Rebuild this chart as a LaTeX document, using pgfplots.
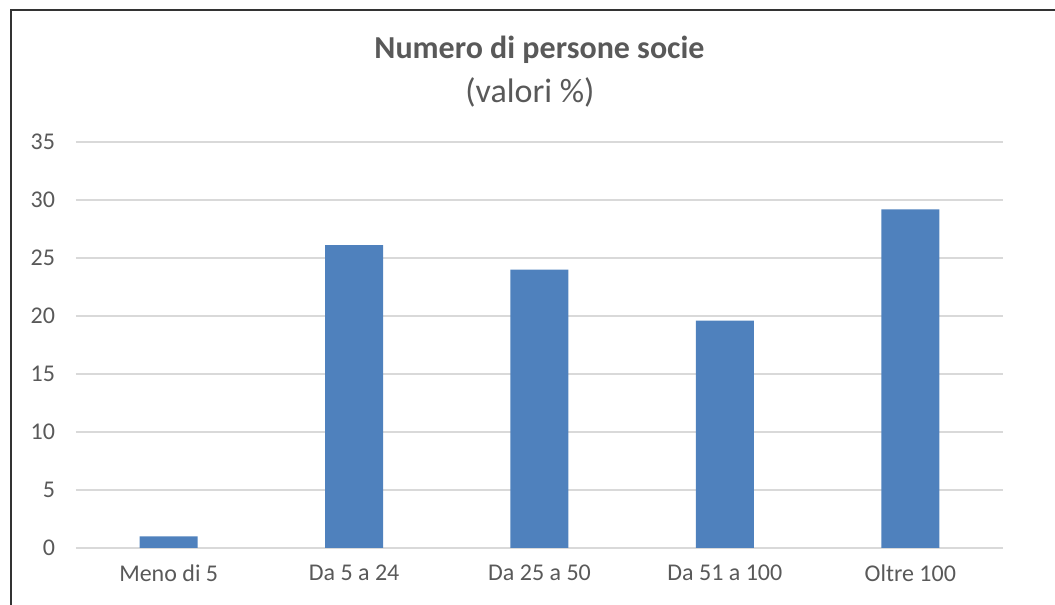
\documentclass[border=0pt]{standalone}
\usepackage{pgfplots}
\pgfplotsset{compat=1.18}
\usepackage{fontspec}
\setmainfont{Carlito}
\definecolor{barblue}{HTML}{4F81BD}
\definecolor{txtgray}{HTML}{595959}
\definecolor{gridgray}{HTML}{D9D9D9}
\begin{document}
\begin{tikzpicture}
  \path[use as bounding box] (-38pt,-28.5pt) rectangle (489.5pt,274pt);
  \draw[line width=1pt, color=black!80] (-32.5pt,-28.5pt) -- (-32.5pt,269pt) -- (489.5pt,269pt);
  \begin{axis}[
      at={(0,0)}, anchor=south west,
      scale only axis,
      width=463.5pt, height=203pt,
      xmin=-0.5, xmax=4.5,
      ymin=0, ymax=35,
      ytick={0,5,...,35},
      xtick=data,
      xticklabels={Meno di 5, Da 5 a 24, Da 25 a 50, Da 51 a 100, Oltre 100},
      major tick length=0pt,
      axis line style={draw=none},
      ymajorgrids,
      grid style={gridgray, line width=0.9pt},
      /pgf/number format/assume math mode=true,
      tick label style={font=\fontsize{12}{14}\selectfont, text=txtgray},
      yticklabel style={xshift=-7pt},
      xticklabel style={yshift=-5pt},
      clip=false
    ]
    \addplot[ybar, bar width=29pt, fill=barblue, draw=none] coordinates {
        (0, 1.0)
        (1, 26.1)
        (2, 24.0)
        (3, 19.6)
        (4, 29.2)
    };
  \end{axis}
  \node[text=txtgray, font=\fontsize{16}{19}\selectfont\bfseries] at (231.75pt,249pt) {Numero di persone socie};
  \node[text=txtgray, font=\fontsize{17}{20}\selectfont] at (227pt,228pt) {(valori \%)};
\end{tikzpicture}
\end{document}
